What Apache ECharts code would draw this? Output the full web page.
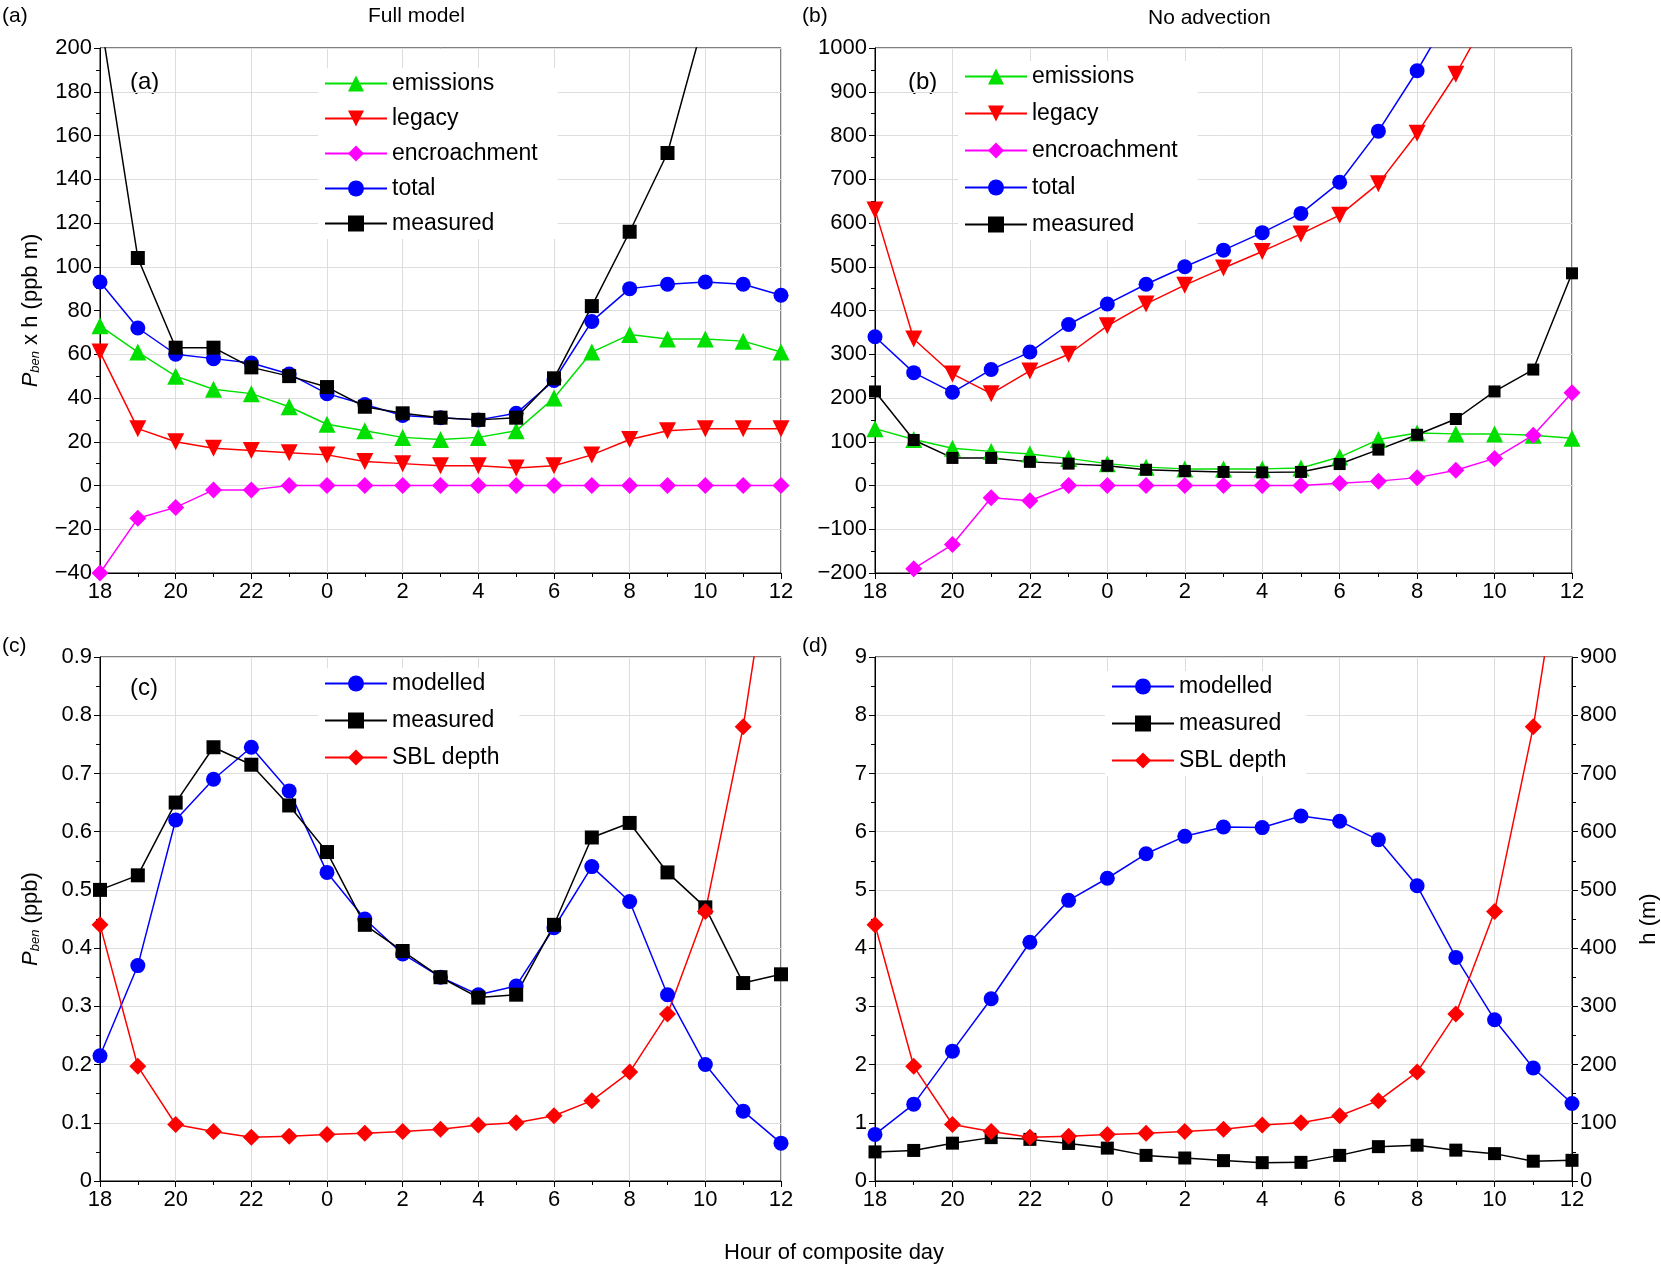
<!DOCTYPE html>
<html><head><meta charset="utf-8">
<script src="https://cdn.jsdelivr.net/npm/echarts@6/dist/echarts.min.js"></script>
<style>html,body{margin:0;background:#fff}#c{width:1661px;height:1270px}</style>
</head><body><div id="c"></div>
<script>
// hours 18..36 (36 = 12 next day)
const hours = [18,19,20,21,22,23,24,25,26,27,28,29,30,31,32,33,34,35,36];

// panel a: full model
const aEmis = [73,61,50,44,42,36,28,25,22,21,22,25,40,61,69,67,67,66,61];
const aLegacy = [61,26,20,17,16,15,14,11,10,9,9,8,9,14,21,25,26,26,26];
const aEncr = [-40,-15,-10,-2,-2,0,0,0,0,0,0,0,0,0,0,0,0,0,0];
const aTotal = [93,72,60,58,56,51,42,37,32,31,30,33,48,75,90,92,93,92,87];
const measuredPh = [215,104,63,63,54,50,45,36,33,31,30,31,49,82,116,152,215,265,485];

// panel b: no advection
const bEmis = [130,105,85,78,72,62,50,42,38,38,38,40,65,105,120,118,118,115,108];
const bLegacy = [630,335,255,210,262,300,365,415,458,497,535,575,618,690,805,940,1100,1270,1450];
const bEncr = [-350,-190,-135,-28,-35,0,0,0,0,0,0,0,5,10,18,35,62,115,212];
const bTotal = [340,258,213,265,305,368,415,460,500,538,578,622,693,810,948,1100,1250,1400,1550];

// panels c, d
const cModel = [0.215,0.37,0.62,0.69,0.745,0.67,0.53,0.45,0.39,0.35,0.32,0.335,0.435,0.54,0.48,0.32,0.2,0.12,0.065];
const measuredP = [0.50,0.525,0.65,0.745,0.715,0.645,0.565,0.44,0.395,0.35,0.315,0.32,0.44,0.59,0.615,0.53,0.47,0.34,0.355];
const sblDepth = [440,197,97,85,75,77,80,82,85,89,96,100,112,138,187,287,463,780,1200];
const dModel = [0.8,1.32,2.23,3.13,4.1,4.82,5.2,5.62,5.92,6.08,6.07,6.27,6.18,5.86,5.07,3.84,2.77,1.94,1.33];

const pairs = arr => arr.map((v, i) => [hours[i], v]);
const font = 'Liberation Sans, Arial, sans-serif';
const grids = [
  {left:100, top:48, width:681, height:525},
  {left:875, top:48, width:697, height:525},
  {left:100, top:657, width:681, height:524},
  {left:875, top:657, width:697, height:524}
];
const xAxes = grids.map((g, i) => ({
  type:'value', gridIndex:i, min:18, max:36, interval:2,
  axisLine:{onZero:false, lineStyle:{color:'#000'}}, axisTick:{inside:false, length:6, lineStyle:{color:'#000'}},
  minorTick:{show:true, splitNumber:2, length:4, lineStyle:{color:'#000'}},
  splitLine:{show:true, lineStyle:{color:'#ddd'}},
  axisLabel:{color:'#000', fontSize:22, fontFamily:font, formatter:v => String(v % 24)}
}));
function yAx(i, min, max, itv, extra) {
  return Object.assign({
    type:'value', gridIndex:i, min:min, max:max, interval:itv,
    axisLine:{show:true, onZero:false, lineStyle:{color:'#000'}}, axisTick:{length:6, lineStyle:{color:'#000'}},
    minorTick:{show:true, splitNumber:2, length:4, lineStyle:{color:'#000'}},
    splitLine:{show:true, lineStyle:{color:'#ddd'}},
    axisLabel:{color:'#000', fontSize:22, fontFamily:font, formatter:v => String(Math.round(v*10)/10).replace('-', '\u2212')}
  }, extra || {});
}
const nameRich = {i:{fontStyle:'italic', fontSize:22, fontFamily:font}, s:{fontStyle:'italic', fontSize:13, fontFamily:font, padding:[0,0,-8,0]}, n:{fontSize:22, fontFamily:font}};
const yAxes = [
  yAx(0, -40, 200, 20, {name:'{i|P}{s|ben}{n| x h (ppb m)}', nameLocation:'middle', nameGap:58, nameTextStyle:{rich:nameRich}}),
  yAx(1, -200, 1000, 100),
  yAx(2, 0, 0.9, 0.1, {name:'{i|P}{s|ben}{n| (ppb)}', nameLocation:'middle', nameGap:58, nameTextStyle:{rich:nameRich}}),
  yAx(3, 0, 9, 1),
  yAx(2, 0, 900, 100, {position:'right', show:false, splitLine:{show:false}}),
  yAx(3, 0, 900, 100, {position:'right', splitLine:{show:false}, name:'h (m)', nameLocation:'middle', nameGap:66, nameRotate:90, nameTextStyle:{fontSize:22, fontFamily:font, color:'#000'}})
];
function ser(name, data, xi, yi, color, symbol, size, rot, lw) {
  return {type:'line', name:name, xAxisIndex:xi, yAxisIndex:yi, data:pairs(data),
    symbol:symbol, symbolSize:size || 15, symbolRotate:rot || 0, clip:true,
    lineStyle:{color:color, width:lw || 1.5}, itemStyle:{color:color}};
}
const series = [
  ser('emissions', aEmis, 0, 0, '#00e000', 'triangle', 17),
  ser('legacy', aLegacy, 0, 0, '#ff0000', 'triangle', 17, 180),
  ser('encroachment', aEncr, 0, 0, '#ff00ff', 'diamond', 17),
  ser('total', aTotal, 0, 0, '#0000ff', 'circle', 15),
  ser('measured', measuredPh, 0, 0, '#000', 'rect', 14),
  ser('emissions', bEmis, 1, 1, '#00e000', 'triangle', 17),
  ser('legacy', bLegacy, 1, 1, '#ff0000', 'triangle', 17, 180),
  ser('encroachment', bEncr, 1, 1, '#ff00ff', 'diamond', 17),
  ser('total', bTotal, 1, 1, '#0000ff', 'circle', 15),
  ser('measured', measuredPh, 1, 1, '#000', 'rect', 12),
  ser('modelled', cModel, 2, 2, '#0000ff', 'circle', 15),
  ser('measured', measuredP, 2, 2, '#000', 'rect', 14),
  ser('SBL depth', sblDepth, 2, 4, '#ff0000', 'diamond', 17),
  ser('modelled', dModel, 3, 3, '#0000ff', 'circle', 15),
  ser('measured', measuredP, 3, 3, '#000', 'rect', 13),
  ser('SBL depth', sblDepth, 3, 5, '#ff0000', 'diamond', 17)
];
function leg(left, top, names, gap) {
  return {left:left, top:top, orient:'vertical', data:names, itemWidth:62, itemHeight:20, itemGap:gap,
    backgroundColor:'#fff', padding:[4,20,4,6], selectedMode:false,
    textStyle:{fontSize:23, fontFamily:font, color:'#000'}};
}
const lab = (t, x, y, s) => ({type:'text', left:x, top:y, style:{text:t, fontSize:s || 21, fontFamily:font, fill:'#000'}});
const chart = echarts.init(document.getElementById('c'));
chart.setOption({
  animation:false,
  grid:grids.map(g => Object.assign({show:true, borderColor:'#000', borderWidth:1, backgroundColor:'transparent'}, g)),
  xAxis:xAxes, yAxis:yAxes, series:series,
  legend:[
    leg(318, 68, ['emissions','legacy','encroachment','total','measured'], 12),
    leg(958, 61, ['emissions','legacy','encroachment','total','measured'], 14),
    leg(318, 668, ['modelled','measured','SBL depth'], 14),
    leg(1105, 671, ['modelled','measured','SBL depth'], 14)
  ],
  graphic:[
    lab('(a)', 2, 6), lab('(b)', 802, 6), lab('(c)', 2, 636), lab('(d)', 802, 636),
    lab('(a)', 130, 70, 24), lab('(b)', 908, 70, 24), lab('(c)', 130, 676, 24),
    lab('Full model', 368, 6), lab('No advection', 1148, 8),
    lab('Hour of composite day', 724, 1242, 22)
  ]
});
</script></body></html>
